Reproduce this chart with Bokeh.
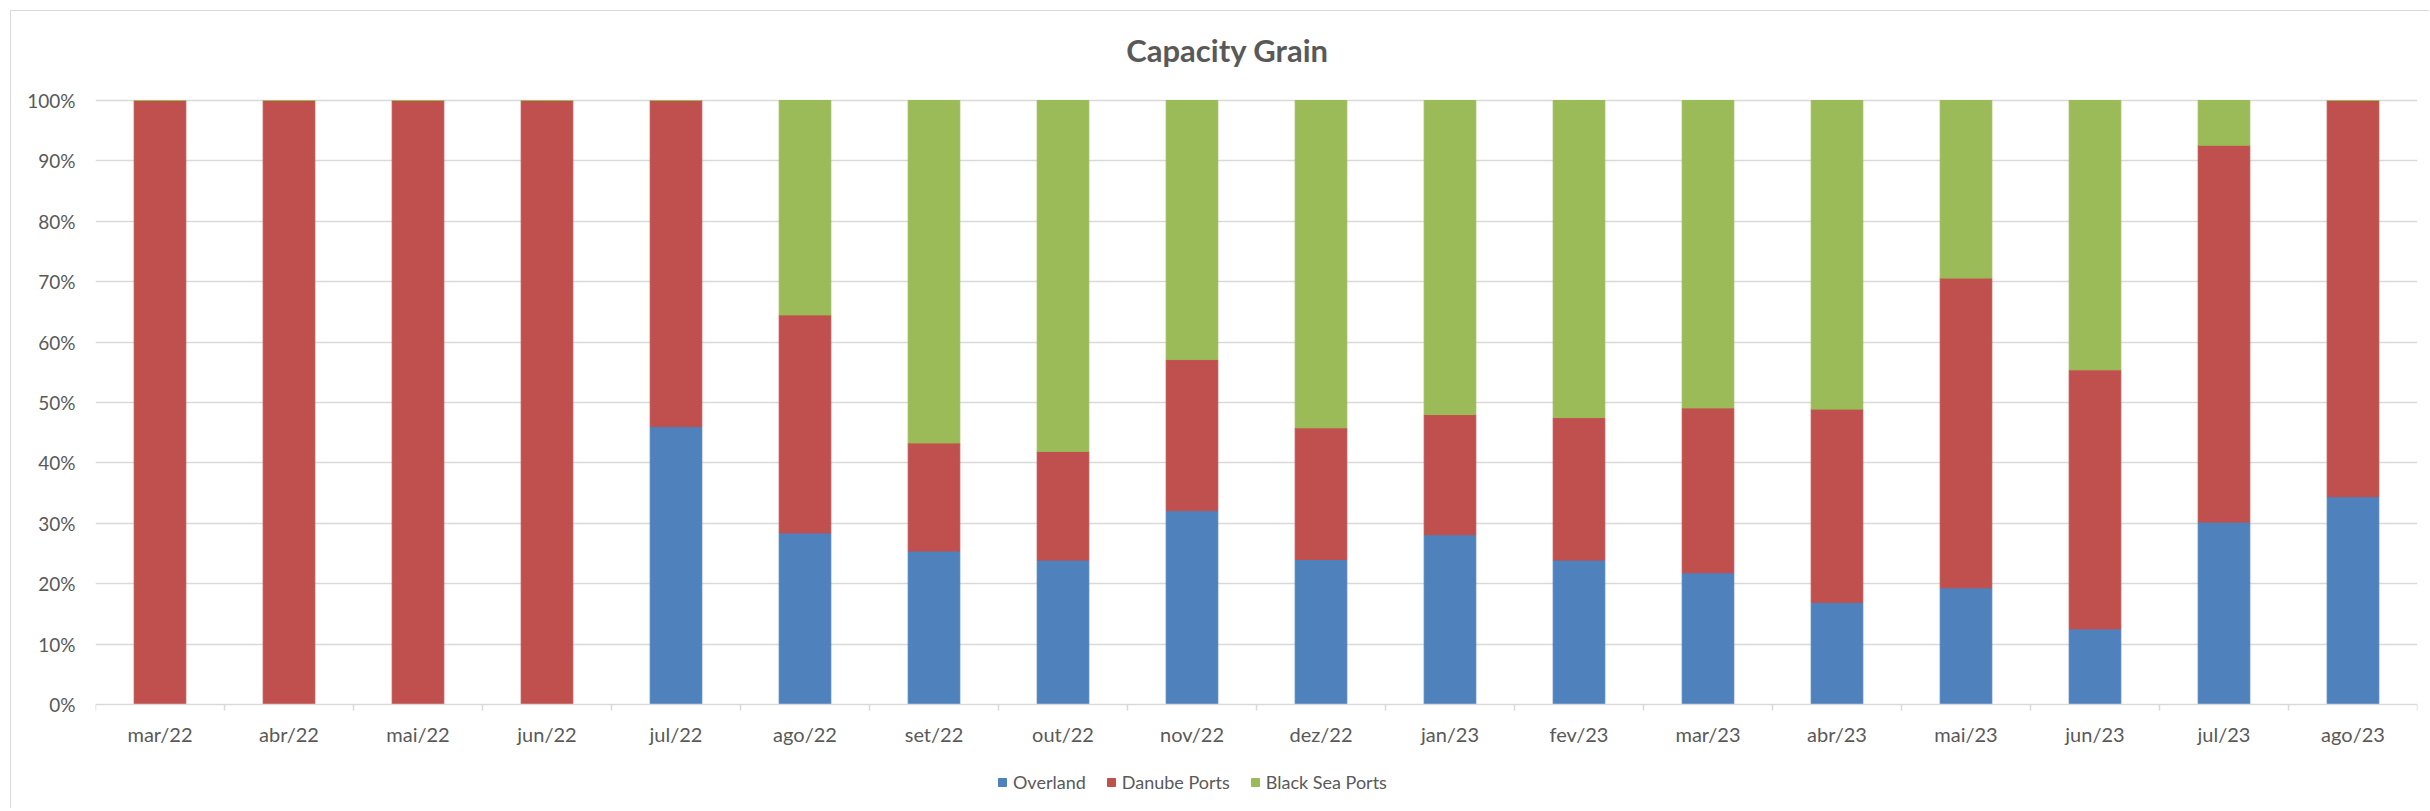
from bokeh.plotting import figure
from bokeh.models import (ColumnDataSource, FixedTicker, NumeralTickFormatter, Legend,
                          LegendItem, Label, Range1d, LinearAxis)
from bokeh.embed import file_html
from bokeh.resources import INLINE

months = ["mar/22", "abr/22", "mai/22", "jun/22", "jul/22", "ago/22", "set/22", "out/22",
          "nov/22", "dez/22", "jan/23", "fev/23", "mar/23", "abr/23", "mai/23", "jun/23",
          "jul/23", "ago/23"]
overland = [0, 0, 0, 0, 46.0, 28.4, 25.4, 23.9, 32.1, 24.0, 28.1, 23.9, 21.8, 16.9, 19.3, 12.5, 30.2, 34.4]
danube = [100, 100, 100, 100, 54.0, 36.1, 17.9, 18.0, 25.0, 21.8, 19.9, 23.6, 27.3, 32.0, 51.3, 42.9, 62.4, 65.6]
black_sea = [0, 0, 0, 0, 0, 35.5, 56.7, 58.1, 42.9, 54.2, 52.0, 52.5, 50.9, 51.1, 29.4, 44.6, 7.4, 0]
series = ["Overland", "Danube Ports", "Black Sea Ports"]
colors = ["#4F81BD", "#C0504D", "#9BBB59"]
y_ticks = [0, 0.1, 0.2, 0.3, 0.4, 0.5, 0.6, 0.7, 0.8, 0.9, 1.0]
title_text = "Capacity Grain"

n = len(months)
centers = [i + 0.5 for i in range(n)]
bounds = [float(i) for i in range(n + 1)]

src = ColumnDataSource(dict(
    x=centers,
    Overland=[v / 100 for v in overland],
    Danube=[v / 100 for v in danube],
    BlackSea=[v / 100 for v in black_sea],
))

FONT = "Lato"
GRAY = "#595959"
GRID = "#d9d9d9"

# frame extends above 100% and below 0% so title and legend sit inside it
p = figure(width=2419, height=798, output_backend="svg", toolbar_location=None,
           x_range=Range1d(0, n), y_range=Range1d(-0.174, 1.1474),
           x_axis_location=None,
           min_border_left=84, min_border_right=13, min_border_top=0, min_border_bottom=0)
p.margin = (10, 0, 0, 10)
p.styles = {"border-left": "1px solid #d9d9d9", "border-top": "1px solid #d9d9d9"}
p.outline_line_color = None
p.background_fill_color = "white"
p.border_fill_color = "white"

renderers = p.vbar_stack(["Overland", "Danube", "BlackSea"], x="x", width=0.4, source=src,
                         color=colors, line_color=colors)

# x axis pinned at 0%
xaxis = LinearAxis(fixed_location=0)
xaxis.ticker = FixedTicker(ticks=centers, minor_ticks=bounds)
xaxis.major_label_overrides = {c: m for c, m in zip(centers, months)}
xaxis.major_tick_line_color = None
xaxis.major_tick_out = 0
xaxis.major_tick_in = 0
xaxis.minor_tick_line_color = GRID
xaxis.minor_tick_out = 6
xaxis.minor_tick_in = 0
xaxis.minor_tick_line_width = 1.5
xaxis.axis_line_color = GRID
xaxis.axis_line_width = 1.5
xaxis.major_label_standoff = 12
xaxis.major_label_text_font = FONT
xaxis.major_label_text_font_size = "20px"
xaxis.major_label_text_color = GRAY
p.add_layout(xaxis, "below")

p.yaxis.ticker = FixedTicker(ticks=y_ticks)
p.yaxis.formatter = NumeralTickFormatter(format="0%")
p.yaxis.axis_line_color = None
p.yaxis.major_tick_line_color = None
p.yaxis.minor_tick_line_color = None
p.yaxis.major_tick_out = 0
p.yaxis.major_label_standoff = 20
p.yaxis.major_label_text_font = FONT
p.yaxis.major_label_text_font_size = "19px"
p.yaxis.major_label_text_color = GRAY

p.xgrid.grid_line_color = None
p.ygrid.grid_line_color = GRID
p.ygrid.grid_line_width = 1.5
p.ygrid.ticker = FixedTicker(ticks=y_ticks[1:])

# title
p.add_layout(Label(x=1132, y=760, x_units="screen", y_units="screen", text=title_text,
                   text_align="center", text_baseline="middle", text_font=FONT,
                   text_font_size="31px", text_font_style="bold", text_color=GRAY))

# legend
items = [LegendItem(label=s, renderers=[r]) for s, r in zip(series, renderers)]
legend = Legend(items=items, orientation="horizontal", location=(902, 16),
                glyph_width=10, glyph_height=10, label_standoff=6, spacing=20,
                padding=0, margin=0, border_line_color=None, background_fill_alpha=0,
                label_text_font=FONT, label_text_font_size="18px", label_text_color=GRAY)
p.add_layout(legend, "center")

open("out.html", "w").write(file_html(p, INLINE))
